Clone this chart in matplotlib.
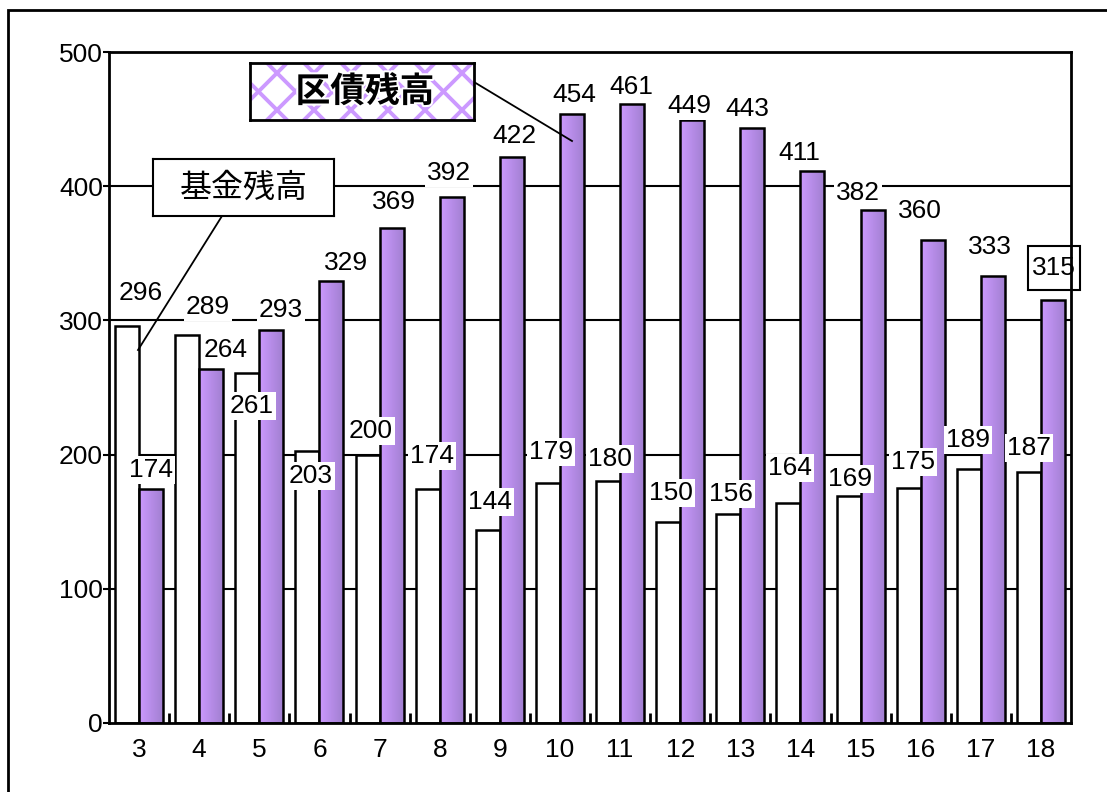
import numpy as np
import matplotlib
matplotlib.use('Agg')
import matplotlib.pyplot as plt
import matplotlib.patheffects as pe
from matplotlib.patches import Rectangle
from matplotlib.lines import Line2D

plt.rcParams['font.family'] = ['Liberation Sans', 'Noto Sans CJK JP', 'DejaVu Sans']

# data
years = ['3', '4', '5', '6', '7', '8', '9', '10', '11', '12', '13', '14', '15', '16', '17', '18']
fund = [296, 289, 261, 203, 200, 174, 144, 179, 180, 150, 156, 164, 169, 175, 189, 187]
debt = [174, 264, 293, 329, 369, 392, 422, 454, 461, 449, 443, 411, 382, 360, 333, 315]
y_ticks = [0, 100, 200, 300, 400, 500]
debt_name = '区債残高'
fund_name = '基金残高'

# label centers in image pixels (placed by hand in the original)
fund_lbl_pos = [(141, 293), (208, 307), (252, 406), (311, 476), (371, 431), (432, 456),
                (490, 502), (551, 452), (610, 459), (671, 493), (731, 494), (790, 468),
                (850, 479), (913, 462), (968, 440), (1029, 448)]
debt_lbl_pos = [(151, 470), (226, 350), (281, 310), (346, 263), (394, 202), (449, 173),
                (514, 136), (574, 95), (631, 87), (689, 106), (747, 109), (799, 153),
                (858, 193), (920, 211), (990, 247), (1054, 268)]

W, H = 1107, 792
fig = plt.figure(figsize=(W / 100, H / 100), dpi=100)
fig.patch.set_facecolor('white')


def fx(px):
    return px / W


def fy(py):
    return 1 - py / H


# outer frame (right and bottom run off the picture)
fig.patches.append(Rectangle((fx(8), fy(H + 20)), fx(W + 20), fy(10) - fy(H + 20),
                             transform=fig.transFigure, fill=False, ec='black', lw=2))

ax = fig.add_axes([fx(109), fy(723), fx(1071) - fx(109), fy(52) - fy(723)])
x = np.arange(len(years))
w = 0.4

for v in y_ticks[1:-1]:
    ax.axhline(v, color='black', lw=1.5, zorder=1)

ax.bar(x - w / 2, fund, w, color='white', edgecolor='black', lw=1.8, zorder=2)
bars = ax.bar(x + w / 2, debt, w, color='none', edgecolor='black', lw=1.8, zorder=3)

grad = np.linspace(0, 1, 64).reshape(1, -1)
cmap = matplotlib.colors.LinearSegmentedColormap.from_list('p', ['#cc99ff', '#a07fcf'])
for b in bars:
    im = ax.imshow(grad, cmap=cmap, aspect='auto', zorder=2.5,
                   extent=[b.get_x(), b.get_x() + b.get_width(), 0, b.get_height()])
    im.set_clip_path(b)

ax.set_xlim(-0.5, len(years) - 0.5)
ax.set_ylim(0, 500)
ax.set_yticks(y_ticks)
ax.set_xticks(x)
ax.set_xticklabels(years)
ax.set_xticks(np.arange(0.5, len(years) - 1, 1), minor=True)
ax.tick_params(axis='x', which='major', length=0, pad=11, labelsize=19)
ax.tick_params(axis='x', which='minor', direction='in', length=7, width=2)
ax.tick_params(axis='y', direction='out', length=4, width=1.5, pad=0.5, labelsize=19)
for s in ax.spines.values():
    s.set_linewidth(2)
    s.set_zorder(4.5)
ax.set_facecolor('none')

# value labels
for v, (px, py) in zip(fund, fund_lbl_pos):
    fig.text(fx(px), fy(py), str(v), ha='center', va='center', fontsize=19, zorder=5,
             bbox=dict(fc='white', ec='none', pad=1.5))
for i, (v, (px, py)) in enumerate(zip(debt, debt_lbl_pos)):
    if i == len(debt) - 1:
        # framed label on the last bar, crossed by the right spine
        ax.add_patch(Rectangle((fx(px - 26), fy(py + 22)), fx(52), fy(0) - fy(44),
                               transform=fig.transFigure, fc='white', ec='black',
                               lw=1.5, zorder=4, clip_on=False))
        ax.text(fx(px), fy(py), str(v), ha='center', va='center', fontsize=19, zorder=4.2,
                transform=fig.transFigure, clip_on=False)
    else:
        fig.text(fx(px), fy(py), str(v), ha='center', va='center', fontsize=19, zorder=5,
                 bbox=dict(fc='white', ec='none', pad=1.5))

# leader lines
fig.lines.append(Line2D([fx(474), fx(572)], [fy(82), fy(141)], transform=fig.transFigure,
                        color='black', lw=1.3, zorder=6))
fig.lines.append(Line2D([fx(222), fx(138)], [fy(216), fy(350)], transform=fig.transFigure,
                        color='black', lw=1.3, zorder=6))

# debt legend box with purple cross pattern
lx = fig.add_axes([fx(250), fy(120), fx(474) - fx(250), fy(63) - fy(120)], zorder=7)
bw, bh = 224, 57
lx.set_xlim(0, bw)
lx.set_ylim(0, bh)
for c in np.arange(-bh, bw + bh, 37):
    lx.plot([c, c + bh], [0, bh], color='#cc99ff', lw=2.8)
    lx.plot([c + bh, c], [0, bh], color='#cc99ff', lw=2.8)
lx.set_xticks([])
lx.set_yticks([])
for s in lx.spines.values():
    s.set_linewidth(2)
lx.text(bw / 2 + 3, bh / 2, debt_name, ha='center', va='center', fontsize=25, fontweight='bold',
        family=['Noto Sans CJK JP'],
        path_effects=[pe.withStroke(linewidth=3, foreground='white')])

# fund legend box
fx_ax = fig.add_axes([fx(153), fy(216), fx(334) - fx(153), fy(159) - fy(216)], zorder=7)
fx_ax.set_xticks([])
fx_ax.set_yticks([])
for s in fx_ax.spines.values():
    s.set_linewidth(1.5)
fx_ax.text(0.5, 0.5, fund_name, ha='center', va='center', fontsize=23,
           transform=fx_ax.transAxes, family=['Noto Sans CJK JP'])

fig.savefig('out.png', dpi=100)
